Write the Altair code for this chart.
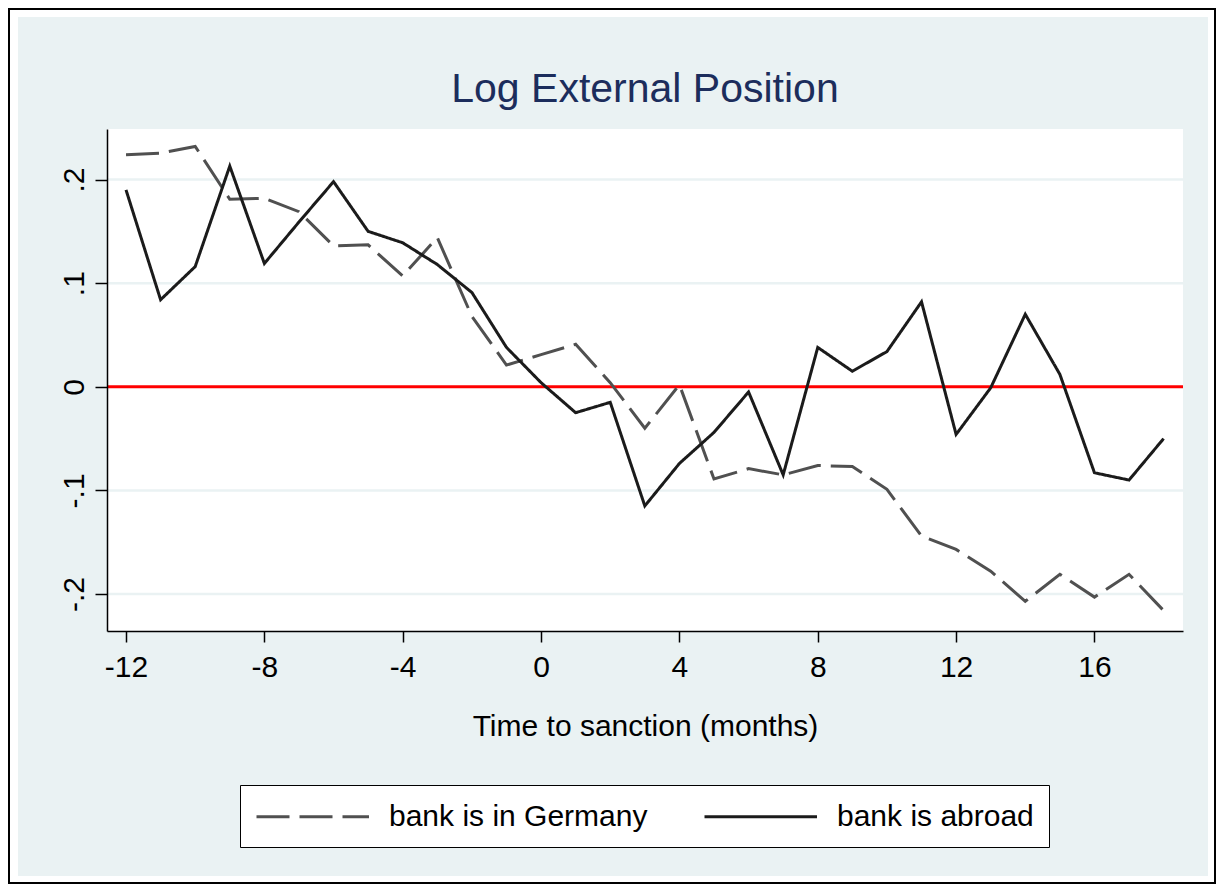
import altair as alt
import pandas as pd

# ---- data ----
months = list(range(-12, 19))
germany = [0.224, 0.2255, 0.232, 0.181, 0.182, 0.169, 0.136, 0.137, 0.107, 0.144,
           0.068, 0.021, 0.031, 0.041, 0.004, -0.040, 0.002, -0.089, -0.079, -0.085,
           -0.076, -0.077, -0.099, -0.144, -0.157, -0.178, -0.207, -0.181, -0.203,
           -0.181, -0.216]
abroad = [0.190, 0.084, 0.116, 0.213, 0.119, 0.159, 0.198, 0.150, 0.139, 0.118,
          0.091, 0.038, 0.004, -0.025, -0.015, -0.115, -0.074, -0.044, -0.005, -0.085,
          0.038, 0.015, 0.034, 0.082, -0.046, -0.001, 0.070, 0.012, -0.083, -0.090,
          -0.050]
series_names = ["bank is in Germany", "bank is abroad"]
x_ticks = [-12, -8, -4, 0, 4, 8, 12, 16]
y_ticks = [-0.2, -0.1, 0, 0.1, 0.2]
grid_values = [-0.2, -0.1, 0.1, 0.2]
title_text = "Log External Position"
x_title = "Time to sanction (months)"

df = pd.DataFrame({
    "month": months * 2,
    "value": germany + abroad,
    "series": [series_names[0]] * len(months) + [series_names[1]] * len(months),
})
grid_df = pd.DataFrame({"value": grid_values})
zero_df = pd.DataFrame({"value": [0.0]})

FONT = "Liberation Sans"
BG = "#EAF2F3"
W, H = 1076, 502

yscale = alt.Scale(domain=[-0.2357, 0.2488], nice=False, zero=False)
y_axis = alt.Axis(
    values=y_ticks,
    labelExpr="datum.value == 0 ? '0' : (datum.value < 0 ? '-' : '') + '.' + toString(round(abs(datum.value) * 10))",
    labelAngle=-90, labelAlign="center", labelBaseline="alphabetic",
    labelPadding=12, tickSize=12, grid=False, title=None, zindex=1,
    domainColor="black", domainWidth=1.5, tickColor="black", tickWidth=1.5,
    labelFont=FONT, labelFontSize=30, labelColor="black",
)
y_enc = alt.Y("value:Q", scale=yscale, axis=y_axis)

x_enc = alt.X(
    "month:Q",
    scale=alt.Scale(domain=[-12.55, 18.56], nice=False, zero=False),
    axis=alt.Axis(
        values=x_ticks, labelExpr="'' + datum.value", grid=False, zindex=1,
        tickSize=11, labelBaseline="alphabetic", labelPadding=34,
        domainColor="black", domainWidth=1.5, tickColor="black", tickWidth=1.5,
        labelFont=FONT, labelFontSize=30, labelColor="black",
        title=x_title, titleY=104, titleBaseline="alphabetic",
        titleFontSize=30, titleFontWeight="normal", titleFont=FONT, titleColor="black",
    ),
)

one = alt.Data(values=[{"k": 1}])

border = alt.Chart(one).mark_rect(fill="white", stroke="black", strokeWidth=2).encode(
    x=alt.value(-98), x2=alt.value(1108), y=alt.value(-120), y2=alt.value(754))
bg = alt.Chart(one).mark_rect(fill=BG, strokeWidth=0).encode(
    x=alt.value(-89), x2=alt.value(1101), y=alt.value(-112), y2=alt.value(747))
plotbg = alt.Chart(one).mark_rect(fill="white", strokeWidth=0).encode(
    x=alt.value(0), x2=alt.value(W), y=alt.value(0), y2=alt.value(H))

grid = alt.Chart(grid_df).mark_rule(color=BG, strokeWidth=2.5).encode(y=y_enc)
zero = alt.Chart(zero_df).mark_rule(color="#FF0000", strokeWidth=3).encode(y=y_enc)

lines = alt.Chart(df).mark_line(strokeWidth=3, strokeJoin="miter").encode(
    x=x_enc,
    y=y_enc,
    color=alt.Color("series:N", scale=alt.Scale(domain=series_names, range=["#505050", "#1b1b1b"]),
                    legend=alt.Legend(title=None)),
    strokeDash=alt.StrokeDash("series:N", scale=alt.Scale(domain=series_names, range=[[33, 10], [1, 0]]),
                              legend=alt.Legend(title=None)),
    order=alt.Order("month:Q"),
)

chart = alt.layer(border, bg, plotbg, grid, zero, lines).properties(
    width=W, height=H,
    autosize=alt.AutoSizeParams(type="none"),
    padding={"left": 99, "top": 121, "right": 34, "bottom": 254},
    background="white",
    title=alt.TitleParams(title_text, font=FONT, fontSize=41, fontWeight="normal",
                          color="#1c2d5c", anchor="middle", baseline="alphabetic",
                          offset=-134.7, zindex=1),
).configure_view(stroke=None).configure_axis(
    zindex=1,
).configure_legend(
    orient="none", legendX=133, legendY=656, direction="horizontal",
    fillColor="white", strokeColor="black", padding=15,
    labelFont=FONT, labelFontSize=30, labelColor="black", labelOffset=101,
    symbolType="M-1,0H6.5", symbolSize=900, symbolStrokeWidth=3, columnPadding=50,
    zindex=1, labelLimit=0,
)

chart.save("out.html", embed_options={"renderer": "svg", "actions": False})
